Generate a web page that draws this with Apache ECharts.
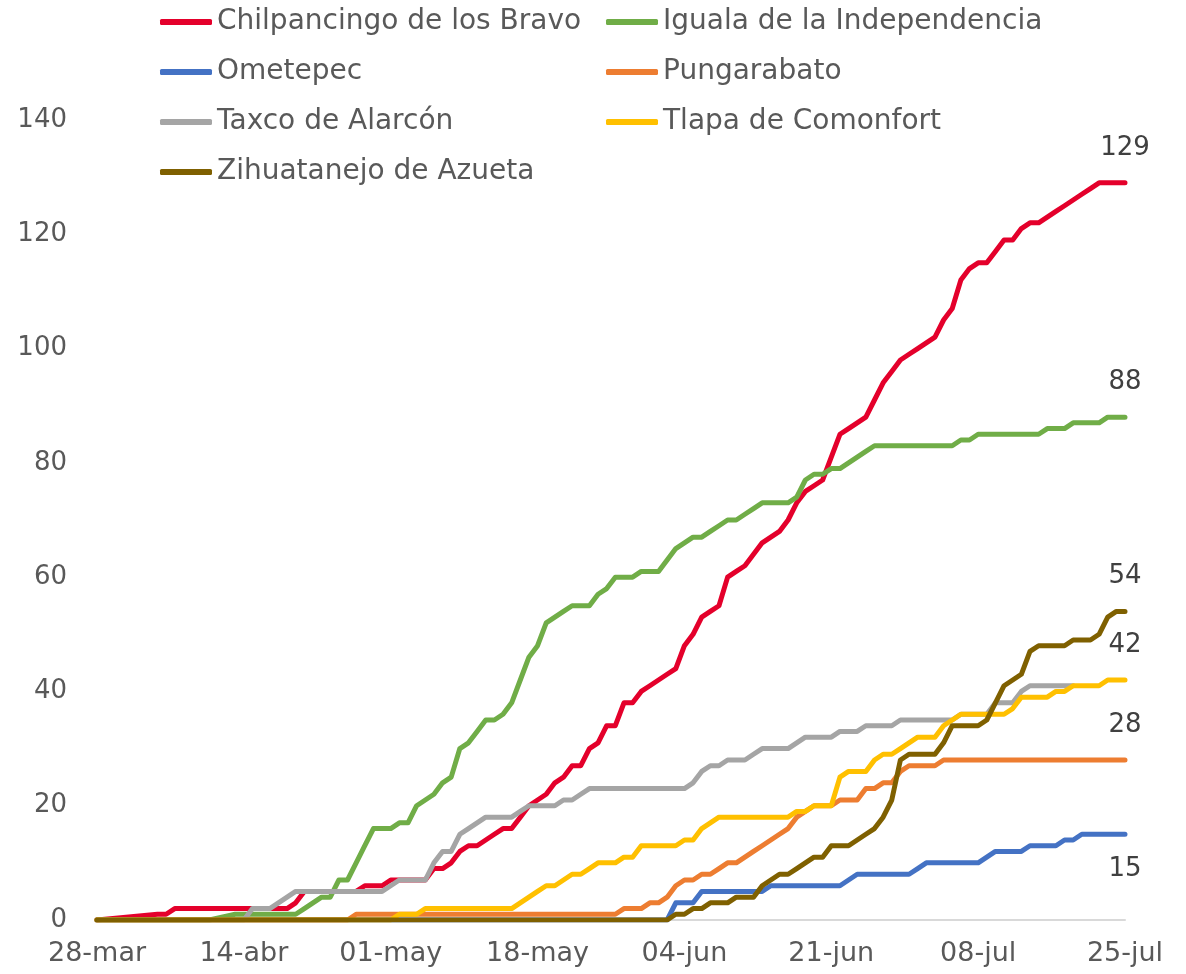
<!DOCTYPE html>
<html>
<head>
<meta charset="utf-8">
<script src="https://cdn.jsdelivr.net/npm/echarts@6/dist/echarts.min.js"></script>
<style>
  html, body { margin: 0; padding: 0; background: #fff; }
  #chart { width: 1186px; height: 974px; }
</style>
</head>
<body>
<div id="chart"></div>
<script>
// dias: 28-mar a 25-jul (120 dias)
const inicio = [2020, 2, 28];
const numDias = 120;
const meses = ['ene', 'feb', 'mar', 'abr', 'may', 'jun', 'jul', 'ago', 'sep', 'oct', 'nov', 'dic'];

const nombres = [
  'Chilpancingo de los Bravo', 'Iguala de la Independencia', 'Ometepec',
  'Pungarabato', 'Taxco de Alarcón', 'Tlapa de Comonfort', 'Zihuatanejo de Azueta'
];
const colores = ['#E4002B', '#70AD47', '#4472C4', '#ED7D31', '#A5A5A5', '#FFC000', '#7F6000'];

// casos acumulados por dia
const chilpancingo = [
  0, null, null, null, null, null, null, 1, 1,
  2, 2, 2, 2, 2, 2, 2, 2, 2, 2, 2, 2, 2, 2,
  3, 5, 5, 5, 5, 5, 5, 5, 6, 6, 6, 7, 7, 7, 7, 7,
  9, 9, 10, 12, 13, 13, 14, 15, 16, 16,
  18, 20, 21, 22, 24, 25, 27, 27, 30, 31,
  34, 34, 38, 38, 40, 41, 42, 43, 44, 48,
  50, 53, 54, 55, 60, 61, 62, 64, 66, 67,
  68, 70, 73, 75, 76, 77, 81, 85, 86, 87,
  88, 91, 94, 96, 98, 99, 100, 101, 102, 105,
  107, 112, 114, 115, 115, 117, 119, 119, 121, 122,
  122, 123, 124, 125, 126, 127, 128, 129, 129, 129,
  129
];
const iguala = [
  0, 0, 0, 0, 0, 0, 0, 0, 0, 0, 0, 0, 0, 0, null, null,
  1, 1, 1, 1, 1, 1, 1, 1,
  2, 3, 4, 4, 7, 7, 10, 13, 16, 16,
  16, 17, 17, 20, 21, 22, 24, 25, 30, 31,
  33, 35, 35, 36, 38, 42, 46, 48, 52, 53,
  54, 55, 55, 55, 57, 58, 60, 60, 60, 61,
  61, 61, 63, 65, 66, 67, 67, 68, 69, 70,
  70, 71, 72, 73, 73, 73, 73, 74, 77, 78,
  78, 79, 79, 80, 81, 82, 83, 83, 83, 83,
  83, 83, 83, 83, 83, 83, 84, 84, 85, 85,
  85, 85, 85, 85, 85, 85, 86, 86, 86, 87,
  87, 87, 87, 88, 88, 88
];
const ometepec = [
  0, 0, 0, 0, 0, 0, 0, 0, 0, 0, 0, 0, 0, 0, 0, 0, 0, 0, 0, 0,
  0, 0, 0, 0, 0, 0, 0, 0, 0, 0, 0, 0, 0, 0, 0, 0, 0, 0, 0, 0,
  0, 0, 0, 0, 0, 0, 0, 0, 0, 0, 0, 0, 0, 0, 0, 0, 0, 0, 0, 0,
  0, 0, 0, 0, 0, 0, 0,
  3, 3, 3, 5, 5, 5, 5, 5, 5, 5, 5,
  6, 6, 6, 6, 6, 6, 6, 6, 6, 7,
  8, 8, 8, 8, 8, 8, 8, 9,
  10, 10, 10, 10, 10, 10, 10, 11,
  12, 12, 12, 12, 13, 13, 13, 13, 14, 14,
  15, 15, 15, 15, 15, 15
];
const pungarabato = [
  0, 0, 0, 0, 0, 0, 0, 0, 0, 0, 0, 0, 0, 0, 0, 0, 0, 0, 0, 0,
  0, 0, 0, 0, 0, 0, 0, 0, 0, 0,
  1, 1, 1, 1, 1, 1, 1, 1, 1, 1, 1, 1, 1, 1, 1, 1, 1, 1, 1, 1,
  1, 1, 1, 1, 1, 1, 1, 1, 1, 1, 1,
  2, 2, 2, 3, 3, 4, 6, 7, 7, 8,
  8, 9, 10, 10, 11, 12, 13, 14, 15, 16,
  18, 19, 20, 20, 20, 21, 21, 21, 23, 23,
  24, 24, 26, 27, 27, 27, 27,
  28, 28, 28, 28, 28, 28, 28, 28, 28, 28, 28,
  28, 28, 28, 28, 28, 28, 28, 28, 28, 28, 28
];
const taxco = [
  0, 0, 0, 0, 0, 0, 0, 0, 0, 0, 0, 0, 0, 0, 0, 0, 0, 0,
  2, 2, 2, 3, 4,
  5, 5, 5, 5, 5, 5, 5, 5, 5, 5, 5,
  6, 7, 7, 7, 7,
  10, 12, 12, 15, 16, 17, 18, 18, 18, 18,
  19, 20, 20, 20, 20, 21, 21, 22, 23, 23,
  23, 23, 23, 23, 23, 23, 23, 23, 23, 23,
  24, 26, 27, 27, 28, 28, 28, 29, 30, 30,
  30, 30, 31, 32, 32, 32, 32, 33, 33, 33,
  34, 34, 34, 34, 35, 35, 35, 35, 35, 35,
  35, 36, 36, 36, 36, 38, 38, 38, 40, 41,
  41, 41, 41, 41, 41,
  null, null, null, null, null, null
];
const tlapa = [
  0, 0, 0, 0, 0, 0, 0, 0, 0, 0, 0, 0, 0, 0, 0, 0, 0, 0, 0, 0,
  0, 0, 0, 0, 0, 0, 0, 0, 0, 0, 0, 0, 0, 0, 0,
  1, 1, 1,
  2, 2, 2, 2, 2, 2, 2, 2, 2, 2, 2,
  3, 4, 5, 6, 6, 7, 8, 8, 9, 10,
  10, 10, 11, 11, 13, 13, 13, 13, 13, 14,
  14, 16, 17, 18, 18, 18, 18, 18, 18, 18,
  18, 18, 19, 19, 20, 20, 20, 25, 26, 26,
  26, 28, 29, 29, 30, 31, 32, 32, 32, 34,
  35, 36, 36, 36, 36, 36, 36, 37, 39, 39,
  39, 39, 40, 40, 41, 41, 41, 41, 42, 42,
  42
];
const zihuatanejo = [
  0, 0, 0, 0, 0, 0, 0, 0, 0, 0, 0, 0, 0, 0, 0, 0, 0, 0, 0, 0,
  0, 0, 0, 0, 0, 0, 0, 0, 0, 0, 0, 0, 0, 0, 0, 0, 0, 0, 0, 0,
  0, 0, 0, 0, 0, 0, 0, 0, 0, 0, 0, 0, 0, 0, 0, 0, 0, 0, 0, 0,
  0, 0, 0, 0, 0, 0, 0,
  1, 1, 2, 2, 3, 3, 3, 4, 4, 4,
  6, 7, 8, 8, 9, 10, 11, 11, 13, 13,
  13, 14, 15, 16, 18, 21, 28, 29, 29, 29,
  29, 31, 34, 34, 34, 34, 35, 38, 41, 42,
  43, 47, 48, 48, 48, 48, 49, 49, 49, 50,
  53, 54, 54
];

const valores = [chilpancingo, iguala, ometepec, pungarabato, taxco, tlapa, zihuatanejo];
// etiqueta final: arriba o abajo del ultimo punto (Taxco sin etiqueta)
const posEtiqueta = ['top', 'top', 'bottom', 'top', null, 'top', 'top'];

const dias = [];
for (let i = 0; i < numDias; i++) {
  const d = new Date(inicio[0], inicio[1], inicio[2] + i);
  dias.push(String(d.getDate()).padStart(2, '0') + '-' + meses[d.getMonth()]);
}

const fuente = "'DejaVu Sans', sans-serif";
const gris = '#595959';

let series = nombres.map((nombre, k) => {
  const datos = valores[k];
  let s = {
    name: nombre,
    type: 'line',
    data: datos,
    symbol: 'none',
    connectNulls: true,
    lineStyle: { width: 5, color: colores[k], cap: 'round', join: 'round' },
    itemStyle: { color: colores[k] },
    emphasis: { disabled: true }
  };
  if (posEtiqueta[k]) {
    const ultimo = datos.length - 1;
    s.markPoint = {
      symbol: 'circle',
      symbolSize: 0,
      silent: true,
      label: {
        show: true,
        position: posEtiqueta[k],
        distance: 22,
        formatter: String(datos[ultimo]),
        color: '#404040',
        fontSize: 26,
        fontFamily: fuente
      },
      data: [{ coord: [ultimo, datos[ultimo]] }]
    };
  }
  return s;
});

const legendaBase = {
  orient: 'vertical',
  top: 7,
  padding: 0,
  itemWidth: 52,
  itemHeight: 6,
  itemGap: 20,
  icon: 'roundRect',
  textStyle: { color: gris, fontSize: 28, fontFamily: fuente, lineHeight: 30 }
};

let chart = echarts.init(document.getElementById('chart'));
chart.setOption({
  animation: false,
  backgroundColor: '#fff',
  color: colores,
  legend: [
    Object.assign({}, legendaBase, { left: 160, data: [nombres[0], nombres[2], nombres[4], nombres[6]] }),
    Object.assign({}, legendaBase, { left: 606, data: [nombres[1], nombres[3], nombres[5]] })
  ],
  grid: { left: 97, right: 61, top: 120, bottom: 54, containLabel: false },
  xAxis: {
    type: 'category',
    data: dias,
    boundaryGap: false,
    axisLine: { lineStyle: { color: '#D9D9D9', width: 2 } },
    axisTick: { show: false },
    axisLabel: { interval: 16, color: gris, fontSize: 27, fontFamily: fuente, margin: 20 }
  },
  yAxis: {
    type: 'value',
    min: 0,
    max: 140,
    interval: 20,
    splitLine: { show: false },
    axisLine: { show: false },
    axisTick: { show: false },
    axisLabel: { color: gris, fontSize: 26, fontFamily: fuente, margin: 30 }
  },
  series: series
});
</script>
</body>
</html>
